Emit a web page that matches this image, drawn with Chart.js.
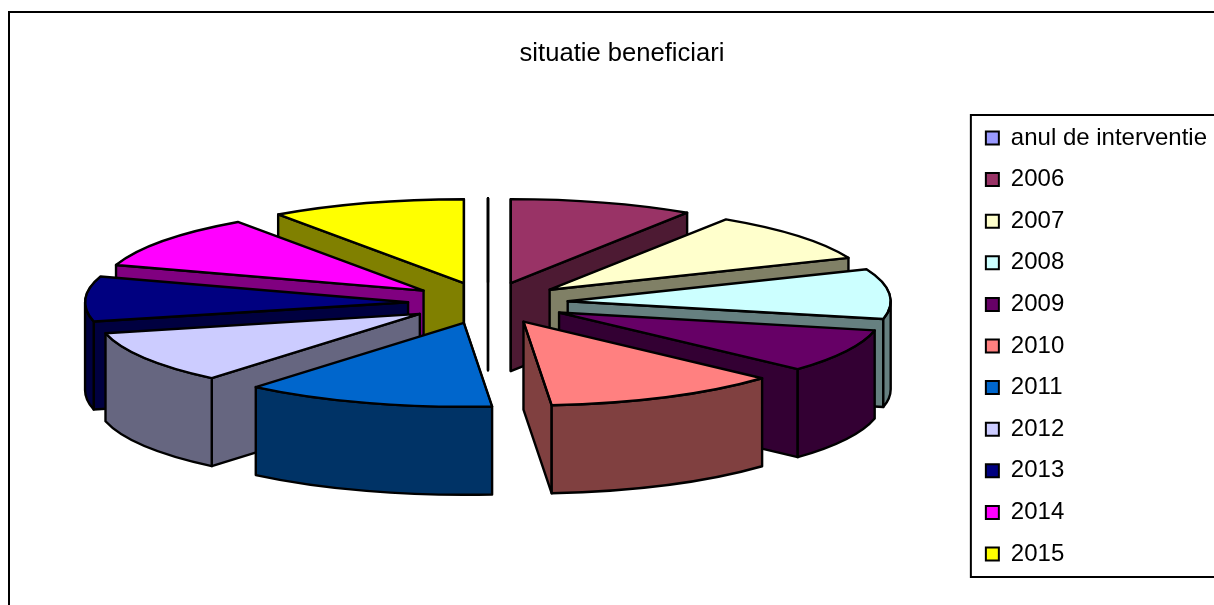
<!DOCTYPE html>
<html>
<head>
<meta charset="utf-8">
<title>situatie beneficiari</title>
<script src="https://cdn.jsdelivr.net/npm/chart.js@4/dist/chart.umd.js"></script>
<style>
    html, body { margin: 0; padding: 0; background: #fff; overflow: hidden; width: 1214px; height: 605px; }
    #frame { position: absolute; left: 8px; top: 11px; width: 1300px; height: 700px; border-left: 2px solid #000; border-top: 2px solid #000; }
    canvas { display: block; }
</style>
</head>
<body>
<div id="frame"><canvas id="resChart" width="1207" height="666"></canvas></div>
<script>
// categories and values (degrees of the pie)
const categories = ['anul de interventie', '2006', '2007', '2008', '2009', '2010', '2011', '2012', '2013', '2014', '2015'];
const values = [0, 33, 34.5, 34.5, 30, 42.5, 45, 36.5, 31, 37, 35];
const sliceColors = ['#9999FF', '#993366', '#FFFFCC', '#CCFFFF', '#660066', '#FF8080', '#0066CC', '#CCCCFF', '#000080', '#FF00FF', '#FFFF00'];

// look of the fake 3D pie
const squash = 0.26;
const explode = 80;
const depth = 88;
const pieRadius = 323;
const pieCenterX = 478;
const pieCenterY = 290;

function darker(hex) {
    const n = parseInt(hex.slice(1), 16);
    const r = (n >> 16) / 2, g = ((n >> 8) & 255) / 2, b = (n & 255) / 2;
    return 'rgb(' + Math.round(r) + ',' + Math.round(g) + ',' + Math.round(b) + ')';
}

function drawFace(ctx, color, pathFn) {
    ctx.beginPath();
    pathFn();
    ctx.closePath();
    ctx.fillStyle = color;
    ctx.fill();
    ctx.stroke();
}

function drawSlice(ctx, arc, color) {
    const R = arc.outerRadius;
    const s = arc.startAngle, e = arc.endAngle;
    const mid = (s + e) / 2;
    const ax = pieCenterX + Math.cos(mid) * explode;
    const ay = pieCenterY + Math.sin(mid) * explode * squash;
    const rimX = a => ax + Math.cos(a) * R;
    const rimY = a => ay + Math.sin(a) * R * squash;
    const wall = darker(color);

    // flat side at one radial edge
    const radial = a => drawFace(ctx, wall, () => {
        ctx.moveTo(ax, ay);
        ctx.lineTo(rimX(a), rimY(a));
        ctx.lineTo(rimX(a), rimY(a) + depth);
        ctx.lineTo(ax, ay + depth);
    });
    if (Math.sin(s - Math.PI / 2) > -0.001) radial(s);
    if (Math.sin(e + Math.PI / 2) > -0.001) radial(e);

    // round outer side, only the part that faces us
    const a0 = Math.max(s, 0), a1 = Math.min(e, Math.PI);
    if (a1 > a0) {
        drawFace(ctx, wall, () => {
            ctx.ellipse(ax, ay, R, R * squash, 0, a0, a1, false);
            ctx.ellipse(ax, ay + depth, R, R * squash, 0, a1, a0, true);
        });
    }

    // top: the library draws the arc, squeezed
    ctx.save();
    ctx.translate(ax, ay);
    ctx.scale(1, squash);
    ctx.translate(-arc.x, -arc.y);
    arc.draw(ctx);
    ctx.restore();

    // outline again with an even pen
    ctx.beginPath();
    ctx.moveTo(ax, ay);
    if (e > s) ctx.ellipse(ax, ay, R, R * squash, 0, s, e, false);
    else ctx.lineTo(rimX(s), rimY(s));
    ctx.closePath();
    ctx.stroke();
}

const pie3d = {
    id: 'pie3d',
    beforeDatasetsDraw(chart) {
        const ctx = chart.ctx;
        const arcs = chart.getDatasetMeta(0).data.map((arc, i) => ({ arc, color: sliceColors[i] }));
        // back slices first
        arcs.sort((p, q) => Math.sin((p.arc.startAngle + p.arc.endAngle) / 2) - Math.sin((q.arc.startAngle + q.arc.endAngle) / 2));
        ctx.save();
        ctx.strokeStyle = '#000';
        ctx.lineWidth = 2.4;
        ctx.lineJoin = 'round';
        arcs.forEach(p => drawSlice(ctx, p.arc, p.color));
        ctx.restore();
        return false;
    },
    afterDraw(chart) {
        const boxes = chart.legend.legendHitBoxes;
        const first = boxes[0], last = boxes[boxes.length - 1];
        const ctx = chart.ctx;
        ctx.save();
        ctx.strokeStyle = '#000';
        ctx.lineWidth = 2;
        ctx.strokeRect(first.left - 15, first.top - 11, chart.width, last.top + last.height - first.top + 22);
        ctx.restore();
    }
};

new Chart(document.getElementById('resChart'), {
    type: 'pie',
    data: {
        labels: categories,
        datasets: [{
            data: values,
            backgroundColor: sliceColors,
            borderColor: '#000',
            borderWidth: 2
        }]
    },
    options: {
        responsive: false,
        animation: false,
        radius: pieRadius,
        layout: { padding: { left: 17 } },
        plugins: {
            title: {
                display: true,
                text: 'situatie beneficiari',
                color: '#000',
                font: { family: '"Liberation Sans"', size: 25.6, weight: 'normal' },
                padding: { top: 26, bottom: 18 }
            },
            legend: {
                position: 'right',
                labels: {
                    boxWidth: 13,
                    boxHeight: 13,
                    padding: 17.6,
                    color: '#000',
                    font: { family: '"Liberation Sans"', size: 24 }
                }
            },
            tooltip: { enabled: false }
        }
    },
    plugins: [pie3d]
});
</script>
</body>
</html>
